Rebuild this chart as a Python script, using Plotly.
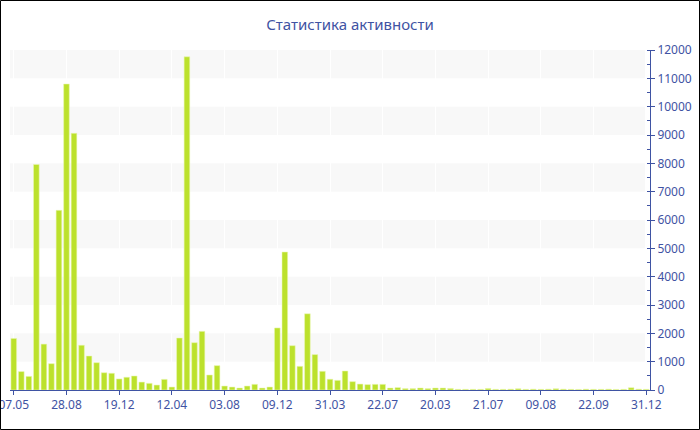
import plotly.graph_objects as go

title_text = "Статистика активности"

tick_labels = ["07.05", "28.08", "19.12", "12.04", "03.08", "09.12", "31.03",
               "22.07", "20.03", "21.07", "09.08", "22.09", "31.12"]

values = [1820, 650, 480, 7960, 1620, 930, 6340, 10800, 9060, 1580,
          1200, 965, 610, 590, 390, 450, 495, 280, 235, 175,
          375, 105, 1835, 11760, 1670, 2070, 530, 860, 140, 105,
          70, 140, 200, 70, 105, 2190, 4870, 1565, 835, 2690,
          1250, 660, 380, 340, 670, 295, 210, 190, 200, 200,
          70, 85, 50, 50, 70, 50, 70, 70, 55, 25,
          25, 25, 25, 55, 25, 25, 30, 45, 25, 30,
          25, 30, 45, 30, 25, 20, 30, 25, 25, 30,
          20, 25, 80, 30, 25]

y_max = 12000
band_step = 1000
tick_every = 7

x_idx = list(range(len(values)))
tick_pos = x_idx[::tick_every]

blue = "#3f53a3"
font_family = "Noto Sans, DejaVu Sans, sans-serif"

fig = go.Figure()
fig.add_trace(go.Bar(
    x=x_idx, y=values,
    marker=dict(color="#bce12c", line=dict(color="rgba(235,248,180,0.9)", width=0.6)),
    hoverinfo="y",
))

shapes = []
for k in range(1, y_max // band_step, 2):
    shapes.append(dict(type="rect", xref="paper", yref="y",
                       x0=0, x1=0.992, y0=k * band_step, y1=(k + 1) * band_step,
                       fillcolor="#f8f8f8", line=dict(width=0), layer="below"))

# outer border around the whole figure
W, H = 700, 430
ml, mr, mt, mb = 10, 50, 50, 40
pw, ph = W - ml - mr, H - mt - mb
shapes.append(dict(type="rect", xref="paper", yref="paper",
                   x0=(0.5 - ml) / pw, x1=(W - 0.5 - ml) / pw,
                   y0=(mt + ph - (H - 0.5)) / ph, y1=(mt + ph - 0.5) / ph,
                   line=dict(color="black", width=1), fillcolor="rgba(0,0,0,0)",
                   layer="above"))

fig.update_layout(
    width=W, height=H,
    margin=dict(l=ml, r=mr, t=mt, b=mb, autoexpand=False),
    paper_bgcolor="white", plot_bgcolor="white",
    showlegend=False,
    bargap=0.25,
    title=dict(text=title_text, x=0.5, xref="container", xanchor="center",
               y=1 - 25 / H, yref="container", yanchor="middle",
               font=dict(family=font_family, size=15, color=blue)),
    shapes=shapes,
    font=dict(family=font_family, size=12, color=blue),
)

fig.update_xaxes(
    range=[-0.5, len(values) - 0.5],
    automargin=False,
    tickmode="array", tickvals=tick_pos, ticktext=tick_labels,
    ticklabeloverflow="allow",
    showline=True, linecolor=blue, linewidth=1,
    ticks="outside", ticklen=4, tickcolor=blue,
    showgrid=True, gridcolor="rgba(255,255,255,0.9)", gridwidth=1,
    zeroline=False,
    tickfont=dict(family=font_family, size=12, color=blue),
)

fig.update_yaxes(
    range=[0, y_max], side="right",
    automargin=False,
    ticklabeloverflow="allow",
    dtick=1000, tickformat="d",
    showline=True, linecolor=blue, linewidth=1,
    ticks="outside", ticklen=4, tickcolor=blue,
    minor=dict(dtick=500, ticks="inside", ticklen=3, tickcolor=blue, showgrid=False),
    showgrid=False, zeroline=False,
    tickfont=dict(family=font_family, size=12, color=blue),
)

fig.write_html("out.html",
               config={"displayModeBar": False},
               post_script="document.body.style.margin='0';document.body.style.overflow='hidden';")
